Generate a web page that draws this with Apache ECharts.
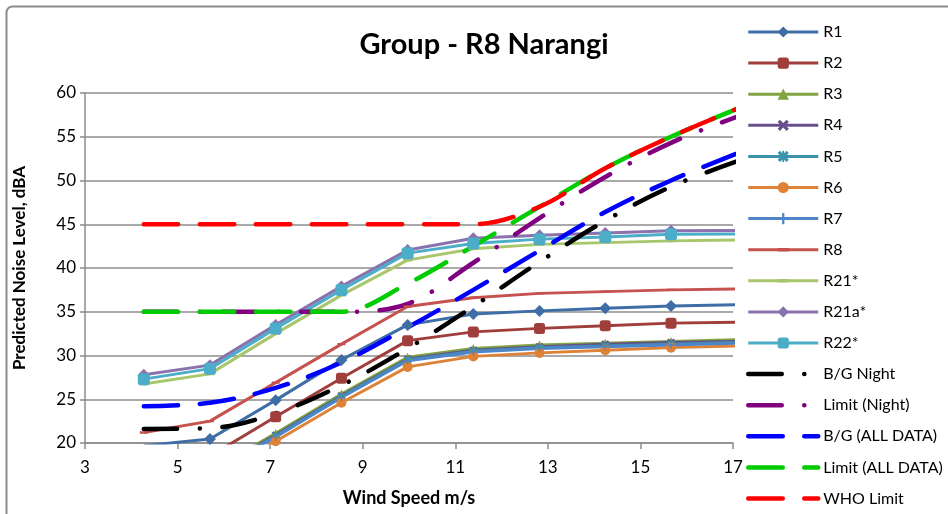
<!DOCTYPE html>
<html>
<head>
<meta charset="utf-8">
<title>Group - R8 Narangi</title>
<script src="https://cdn.jsdelivr.net/npm/echarts@6/dist/echarts.min.js"></script>
<style>
  html, body { margin: 0; padding: 0; background: #fff; }
  #chart { width: 948px; height: 514px; }
</style>
</head>
<body>
<div id="chart"></div>
<script>
// wind speed (m/s) of each calculated point
var windSpeed = [4.27, 5.70, 7.12, 8.54, 9.97, 11.39, 12.82, 14.24, 15.66, 17.09];

// predicted noise level at receivers, dBA
var r1   = [19.7, 20.45, 24.9, 29.5, 33.5, 34.75, 35.1, 35.4, 35.65, 35.8];
var r2   = [16.9, 18.5, 23.0, 27.4, 31.7, 32.7, 33.1, 33.4, 33.7, 33.8];
var r3   = [14.9, 16.8, 21.1, 25.6, 29.8, 30.8, 31.2, 31.4, 31.6, 31.8];
var r4   = [14.7, 16.6, 20.9, 25.4, 29.6, 30.6, 31.0, 31.3, 31.5, 31.6];
var r5   = [14.6, 16.5, 20.8, 25.3, 29.5, 30.5, 30.9, 31.1, 31.3, 31.5];
var r6   = [14.2, 16.0, 20.2, 24.6, 28.7, 29.9, 30.3, 30.6, 30.9, 31.1];
var r7   = [14.5, 16.4, 20.7, 25.2, 29.4, 30.4, 30.8, 31.0, 31.2, 31.4];
var r8   = [21.2, 22.5, 26.9, 31.3, 35.6, 36.6, 37.1, 37.3, 37.5, 37.6];
var r21  = [26.75, 27.9, 32.5, 36.9, 40.9, 42.2, 42.7, 42.9, 43.1, 43.2];
var r21a = [27.8, 28.9, 33.5, 37.9, 42.05, 43.4, 43.75, 44.0, 44.25, 44.3];
var r22  = [27.3, 28.5, 33.1, 37.5, 41.7, 42.8, 43.3, 43.55, 43.85, 43.9];

// background and limits, dBA
var bgNight    = [21.6, 21.7, 23.4, 26.6, 30.8, 35.6, 40.7, 45.4, 49.3, 52.2];
var limitNight = [35, 35, 35, 35, 35.9, 40.6, 45.7, 50.4, 54.3, 57.3];
var bgAll      = [24.2, 24.6, 26.3, 29.2, 33.2, 37.5, 42.0, 46.4, 50.0, 53.1];
var limitAll   = [35, 35, 35, 35, 38.2, 42.5, 47.0, 51.4, 55.0, 58.2];
var whoLimit   = [45, 45, 45, 45, 45, 45, 47.0, 51.4, 55.0, 58.2];

// axes
var xMin = 3, xMax = 17, xStep = 2;
var yMin = 20, yMax = 60, yStep = 5;

var FONT = 'Lato, "Open Sans", sans-serif';
var GRID_GRAY = '#8c8c8c';

// excel style markers (all drawn in a 10x10 box so the legend keeps their shape)
var X_MARK = 'path://M2,0L5,3L8,0L10,2L7,5L10,8L8,10L5,7L2,10L0,8L3,5L0,2Z';
var STAR_MARK = 'path://M2,0L5,3L8,0L10,2L7,5L10,8L8,10L5,7L2,10L0,8L3,5L0,2ZM4.2,0h1.6v10h-1.6z';
var PLUS_MARK = 'path://M4,0h2v10h-2zM0,4h10v2h-10z';
var DASH_MARK = 'path://M0,3.5h10v3h-10zM5,0L5.01,0L5,0.01zM5,10L5.01,10L5,9.99z';

function pts(vals) {
  return windSpeed.map(function (x, i) { return [x, vals[i]]; });
}

function recSeries(name, vals, color, symbol, size) {
  return {
    name: name,
    type: 'line',
    data: pts(vals),
    symbol: symbol,
    symbolSize: size,
    showAllSymbol: true,
    lineStyle: { color: color, width: 3 },
    itemStyle: { color: color },
    emphasis: { disabled: true }
  };
}

function dashSeries(name, vals, color, dash) {
  return {
    name: name,
    type: 'line',
    data: pts(vals),
    symbol: 'none',
    smooth: 0.35,
    lineStyle: { color: color, width: 4.5, type: dash, cap: 'round' },
    itemStyle: { color: color },
    emphasis: { disabled: true }
  };
}

var LONG_DASH = [34.5, 21.5];
var LONG_DASH_DOT = [33.5, 22.5, 0.1, 22.5];

var series = [
  recSeries('R1', r1, '#3f6ea6', 'diamond', 12),
  recSeries('R2', r2, '#a03e3b', 'roundRect', 11),
  recSeries('R3', r3, '#80a441', 'triangle', 9),
  recSeries('R4', r4, '#674f8b', X_MARK, 8),
  recSeries('R5', r5, '#3a93ac', STAR_MARK, 8),
  recSeries('R6', r6, '#dd8236', 'circle', 10),
  recSeries('R7', r7, '#4e85c9', PLUS_MARK, 7),
  recSeries('R8', r8, '#c5524f', DASH_MARK, 8),
  recSeries('R21*', r21, '#a8c66c', DASH_MARK, 9),
  recSeries('R21a*', r21a, '#8b72af', 'diamond', 12),
  recSeries('R22*', r22, '#4badc8', 'roundRect', 12),
  dashSeries('B/G Night', bgNight, '#000000', LONG_DASH_DOT),
  dashSeries('Limit (Night)', limitNight, '#800080', LONG_DASH_DOT),
  dashSeries('B/G (ALL DATA)', bgAll, '#0000ff', LONG_DASH),
  dashSeries('Limit (ALL DATA)', limitAll, '#00cc00', LONG_DASH),
  dashSeries('WHO Limit', whoLimit, '#ff0000', LONG_DASH)
];

var legendData = series.map(function (s) {
  if (s.symbol === 'none') {
    return {
      name: s.name,
      itemStyle: { opacity: 0 },
      lineStyle: { width: 4.5, cap: 'round', type: s.lineStyle.type }
    };
  }
  return { name: s.name, lineStyle: { width: 3 } };
});

var chart = echarts.init(document.getElementById('chart'));
chart.setOption({
  animation: false,
  backgroundColor: '#fff',
  title: {
    text: 'Group - R8 Narangi',
    left: 479,
    top: 25,
    textAlign: 'center',
    textStyle: { fontFamily: FONT, fontSize: 29, fontWeight: 'bold', color: '#000' }
  },
  legend: {
    orient: 'vertical',
    left: 746,
    top: 24,
    bottom: 0,
    padding: 0,
    itemWidth: 70,
    itemHeight: 14,
    itemGap: 15.1,
    selectedMode: false,
    textStyle: { fontFamily: FONT, fontSize: 16, color: '#000' },
    data: legendData
  },
  grid: { left: 85, right: 215, top: 93, bottom: 71 },
  xAxis: {
    type: 'value',
    min: xMin,
    max: xMax,
    interval: xStep,
    name: 'Wind Speed m/s',
    nameLocation: 'middle',
    nameGap: 46,
    nameTextStyle: { fontFamily: FONT, fontSize: 18, fontWeight: 'bold', color: '#000' },
    axisLine: { show: true, lineStyle: { color: GRID_GRAY, width: 1.5 } },
    axisTick: { show: true, length: 6, lineStyle: { color: GRID_GRAY, width: 1.5 } },
    axisLabel: { margin: 16, fontFamily: FONT, fontSize: 17, color: '#000' },
    splitLine: { show: false }
  },
  yAxis: {
    type: 'value',
    min: yMin,
    max: yMax,
    interval: yStep,
    name: 'Predicted Noise Level, dBA',
    nameLocation: 'middle',
    nameGap: 57,
    nameTextStyle: { fontFamily: FONT, fontSize: 17, fontWeight: 'bold', color: '#000' },
    axisLine: { show: true, lineStyle: { color: GRID_GRAY, width: 1.5 } },
    axisTick: { show: true, length: 5, lineStyle: { color: GRID_GRAY, width: 1.5 } },
    axisLabel: { margin: 9, fontFamily: FONT, fontSize: 17, color: '#000' },
    splitLine: { show: true, lineStyle: { color: GRID_GRAY, width: 1.5 } }
  },
  graphic: [{
    type: 'rect',
    left: 4,
    top: 4,
    shape: { width: 980, height: 560, r: 6 },
    style: { fill: 'none', stroke: '#8c8c8c', lineWidth: 2 },
    silent: true,
    z: -1
  }],
  series: series
});
</script>
</body>
</html>
